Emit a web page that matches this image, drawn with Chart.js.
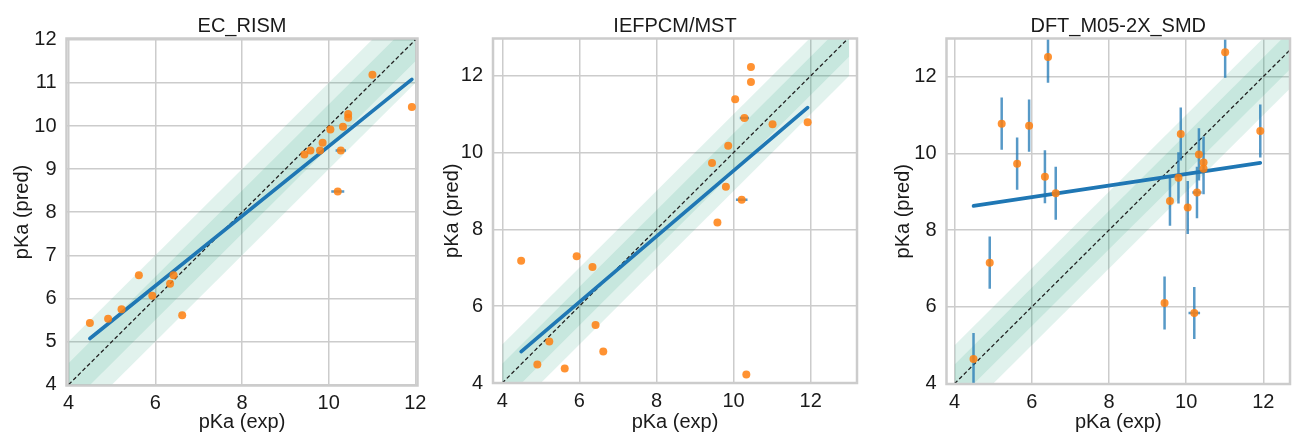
<!DOCTYPE html>
<html>
<head>
<meta charset="utf-8">
<script src="https://cdn.jsdelivr.net/npm/chart.js@4.4.1/dist/chart.umd.min.js"></script>
<style>
  body { margin: 0; background: #fff; width: 1298px; height: 434px; position: relative; overflow: hidden; }
  canvas { position: absolute; top: 0; }
</style>
</head>
<body>
<canvas id="p1" width="430" height="434" style="left:0px"></canvas>
<canvas id="p2" width="440" height="434" style="left:430px"></canvas>
<canvas id="p3" width="417" height="434" style="left:881px"></canvas>
<script>
// experimental pKa (shared by all three panels)
const expX = [4.49, 4.91, 5.22, 5.62, 5.93, 6.34, 6.42, 6.62, 9.44, 9.58,
              9.80, 9.86, 10.04, 10.21, 10.28, 10.33, 10.45, 10.45, 11.01, 11.92];
const expErr = [0, 0, 0, 0, 0, 0, 0, 0, 0, 0,
                0, 0, 0, 0.15, 0.12, 0, 0, 0, 0, 0];

// predicted pKa per method
const predEcRism = [5.43, 5.53, 5.75, 6.54, 6.06, 6.34, 6.54, 5.61, 9.34, 9.43,
                    9.43, 9.61, 9.92, 8.48, 9.43, 9.98, 10.28, 10.19, 11.19, 10.44];
const predIefpcm = [7.18, 4.48, 5.08, 4.38, 7.30, 7.02, 5.51, 4.82, 9.73, 8.18,
                    9.11, 10.18, 11.39, 8.77, 10.90, 4.22, 12.23, 11.84, 10.74, 10.79];
const predDft = [4.64, 7.15, 10.77, 9.73, 10.72, 9.39, 12.51, 8.96, 6.10, 8.76,
                 9.36, 10.50, 8.59, 5.84, 8.98, 9.97, 9.76, 9.60, 12.63, 10.58];
const errDft = [0.68, 0.68, 0.68, 0.68, 0.68, 0.69, 0.67, 0.69, 0.69, 0.65,
                0.67, 0.69, 0.69, 0.68, 0.67, 0.68, 0.68, 0.67, 0.66, 0.69];

// regression line, predicted value at min and max experimental pKa
const fitEcRism = [5.07, 11.08];
const fitIefpcm = [4.82, 11.17];
const fitDft = [8.63, 9.75];

// tick labels
const ticksByOne = [4, 5, 6, 7, 8, 9, 10, 11, 12];
const ticksByTwo = [4, 6, 8, 10, 12];

const FONT = '"Liberation Sans", Arial, sans-serif';
const TEXT = '#1a1a1a';
const GRID = '#cccccc';
const BAND = 'rgba(27, 158, 119, 0.13)';

// draws the light grey box around the plot area
const framePlugin = {
    id: 'frame',
    afterDatasetsDraw(chart) {
        const { ctx, chartArea: a } = chart;
        ctx.save();
        ctx.strokeStyle = GRID;
        ctx.lineWidth = 2.5;
        ctx.strokeRect(a.left, a.top, a.right - a.left, a.bottom - a.top);
        ctx.restore();
    }
};

function diagonal(range, shift) {
    return range.map(v => ({ x: v, y: v + shift }));
}

function makePanel(cfg) {
    const points = expX.map((x, i) => ({ x: x, y: cfg.pred[i] }));

    // error bars as broken line segments
    const bars = [];
    expX.forEach((x, i) => {
        const y = cfg.pred[i];
        if (cfg.yErr && cfg.yErr[i]) {
            bars.push({ x: x, y: y - cfg.yErr[i] }, { x: x, y: y + cfg.yErr[i] }, { x: null, y: null });
        }
        if (expErr[i]) {
            bars.push({ x: x - expErr[i], y: y }, { x: x + expErr[i], y: y }, { x: null, y: null });
        }
    });

    const last = expX.length - 1;
    const fitLine = [{ x: expX[0], y: cfg.fit[0] }, { x: expX[last], y: cfg.fit[1] }];

    const plain = { showLine: true, pointRadius: 0, borderWidth: 0, fill: false };

    new Chart(document.getElementById(cfg.id), {
        type: 'line',
        data: {
            datasets: [
                { data: points, showLine: false, pointRadius: 4, pointBackgroundColor: 'rgba(255, 127, 14, 0.85)', pointBorderWidth: 0 },
                { data: bars, showLine: true, pointRadius: 0, borderColor: 'rgba(31, 119, 180, 0.75)', borderWidth: 2.5, spanGaps: false },
                { data: fitLine, showLine: true, pointRadius: 0, borderColor: '#1f77b4', borderWidth: 3.6, borderCapStyle: 'round' },
                { data: diagonal(cfg.band, 0), showLine: true, pointRadius: 0, borderColor: '#222222', borderWidth: 1.3, borderDash: [4, 2.5] },
                { ...plain, data: diagonal(cfg.band, 0.5), fill: '+1', backgroundColor: BAND },
                { ...plain, data: diagonal(cfg.band, -0.5) },
                { ...plain, data: diagonal(cfg.band, 1), fill: '+1', backgroundColor: BAND },
                { ...plain, data: diagonal(cfg.band, -1) }
            ]
        },
        options: {
            responsive: false,
            animation: false,
            events: [],
            layout: { padding: { left: 0, right: cfg.padRight, top: 0, bottom: 0 } },
            plugins: {
                legend: { display: false },
                tooltip: { enabled: false },
                title: {
                    display: true,
                    text: cfg.title,
                    fullSize: false,
                    color: TEXT,
                    font: { family: FONT, size: 20, weight: 'normal' },
                    padding: { top: 14, bottom: 0.5 }
                }
            },
            scales: {
                x: {
                    type: 'linear',
                    min: cfg.xLim[0],
                    max: cfg.xLim[1],
                    afterBuildTicks: s => { s.ticks = cfg.xTicks.map(v => ({ value: v })); },
                    afterFit: s => { s.height = cfg.axisH; s.paddingLeft = 0; s.paddingRight = 0; },
                    grid: { color: GRID, lineWidth: 1.5, drawTicks: false },
                    border: { display: false },
                    ticks: { color: TEXT, font: { family: FONT, size: 20 }, padding: 6, maxRotation: 0, autoSkip: false },
                    title: { display: true, text: 'pKa (exp)', color: TEXT, font: { family: FONT, size: 20 }, padding: 0 }
                },
                y: {
                    type: 'linear',
                    min: cfg.yLim[0],
                    max: cfg.yLim[1],
                    afterBuildTicks: s => { s.ticks = cfg.yTicks.map(v => ({ value: v })); },
                    afterFit: s => { s.width = cfg.axisW; s.paddingTop = 0; s.paddingBottom = 0; },
                    grid: { color: GRID, lineWidth: 1.5, drawTicks: false },
                    border: { display: false },
                    ticks: { color: TEXT, font: { family: FONT, size: 20 }, padding: 10, autoSkip: false },
                    title: { display: true, text: 'pKa (pred)', color: TEXT, font: { family: FONT, size: 20 }, padding: { top: 10, bottom: 0 } }
                }
            }
        },
        plugins: [framePlugin]
    });
}

makePanel({
    id: 'p1', title: 'EC_RISM', pred: predEcRism, yErr: null, fit: fitEcRism,
    xLim: [3.95, 12.05], yLim: [3.98, 12.03], xTicks: ticksByTwo, yTicks: ticksByOne,
    band: [4, 12], axisW: 66.5, axisH: 48.5, padRight: 12.5
});
makePanel({
    id: 'p2', title: 'IEFPCM/MST', pred: predIefpcm, yErr: null, fit: fitIefpcm,
    xLim: [3.76, 13.2], yLim: [4.0, 12.97], xTicks: ticksByTwo, yTicks: ticksByTwo,
    band: [4, 13], axisW: 63, axisH: 51, padRight: 13
});
makePanel({
    id: 'p3', title: 'DFT_M05-2X_SMD', pred: predDft, yErr: errDft, fit: fitDft,
    xLim: [3.79, 12.69], yLim: [3.99, 12.99], xTicks: ticksByTwo, yTicks: ticksByTwo,
    band: [4, 13], axisW: 65.5, axisH: 50, padRight: 8
});
</script>
</body>
</html>
